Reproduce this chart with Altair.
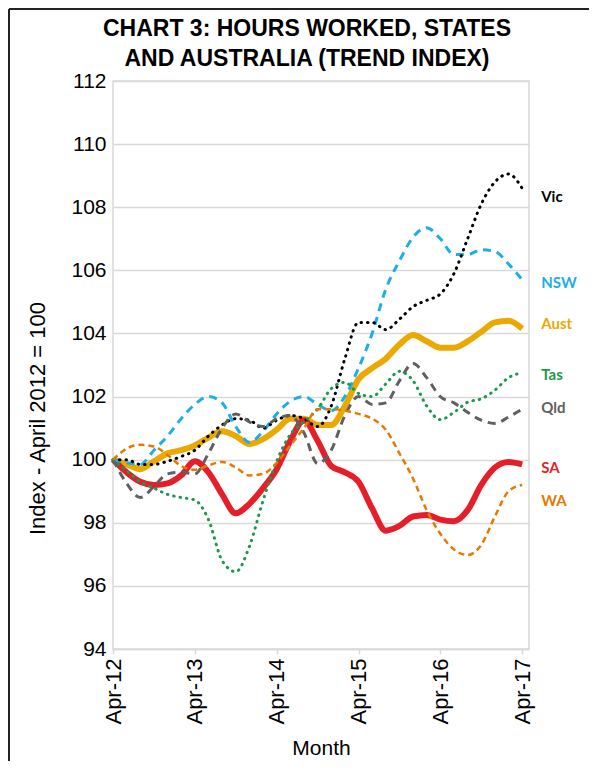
import json
import altair as alt
import pandas as pd

# ---------------- data (bimonthly) ----------------
months = [
    "2012-04", "2012-06", "2012-08", "2012-10", "2012-12", "2013-02",
    "2013-04", "2013-06", "2013-08", "2013-10", "2013-12", "2014-02",
    "2014-04", "2014-06", "2014-08", "2014-10", "2014-12", "2015-02",
    "2015-04", "2015-06", "2015-08", "2015-10", "2015-12", "2016-02",
    "2016-04", "2016-06", "2016-08", "2016-10", "2016-12", "2017-02",
    "2017-04",
]

vic = [100.0, 100.0, 99.85, 99.85, 99.95, 100.1, 100.3, 100.75, 101.1, 101.3,
       101.25, 101.0, 101.25, 101.4, 101.3, 101.05, 101.7, 103.2, 104.35, 104.35,
       104.12, 104.45, 104.85, 105.05, 105.25, 105.9, 107.0, 108.1, 108.8, 109.05,
       108.6]
nsw = [100.0, 99.9, 99.85, 100.3, 100.75, 101.3, 101.75, 102.0, 101.8, 101.05,
       100.55, 100.9, 101.45, 101.85, 102.0, 101.75, 101.55, 102.0, 102.9, 104.0,
       105.4, 106.3, 107.05, 107.35, 107.0, 106.5, 106.5, 106.65, 106.6, 106.2,
       105.7]
aust = [100.0, 99.85, 99.7, 99.95, 100.2, 100.3, 100.45, 100.7, 100.9, 100.75,
        100.5, 100.65, 100.95, 101.3, 101.3, 101.1, 101.1, 101.7, 102.55, 102.9,
        103.2, 103.65, 103.95, 103.75, 103.55, 103.55, 103.75, 104.05, 104.35, 104.4,
        104.15]
tas = [100.0, 99.65, 99.3, 99.1, 98.9, 98.8, 98.72, 98.1, 96.8, 96.45,
       97.25, 98.7, 99.95, 100.8, 101.2, 101.6, 102.25, 102.45, 102.1, 102.0,
       102.4, 102.8, 102.5, 101.7, 101.27, 101.5, 101.82, 101.93, 102.2, 102.6,
       102.75]
qld = [100.0, 99.25, 98.8, 99.15, 99.55, 99.6, 99.55, 100.2, 101.0, 101.45,
       101.2, 101.05, 101.3, 101.4, 100.85, 99.88, 100.3, 101.4, 102.0, 101.75,
       101.8, 102.5, 103.05, 102.6, 102.0, 101.8, 101.5, 101.25, 101.15, 101.35,
       101.6]
sa = [100.0, 99.6, 99.3, 99.2, 99.25, 99.5, 99.95, 99.6, 98.9, 98.3,
      98.6, 99.1, 99.7, 100.6, 101.25, 100.6, 99.8, 99.6, 99.3, 98.45,
      97.75, 97.9, 98.2, 98.25, 98.1, 98.05, 98.4, 99.2, 99.75, 99.93,
      99.85]
wa = [100.0, 100.35, 100.47, 100.42, 100.15, 99.8, 99.68, 99.82, 99.93, 99.75,
      99.5, 99.55, 99.9, 100.45, 101.0, 101.6, 101.6, 101.55, 101.45, 101.3,
      100.95, 100.2, 99.4, 98.4, 97.65, 97.15, 96.98, 97.3, 98.2, 99.0,
      99.2]

series_names = ["Vic", "NSW", "Aust", "Tas", "Qld", "SA", "WA"]
series_values = [vic, nsw, aust, tas, qld, sa, wa]

x_tick_labels = ["Apr-12", "Apr-13", "Apr-14", "Apr-15", "Apr-16", "Apr-17"]
y_ticks = [94, 96, 98, 100, 102, 104, 106, 108, 110, 112]
title_lines = ["CHART 3: HOURS WORKED, STATES", "AND AUSTRALIA  (TREND INDEX)"]

# ---------------- styles ----------------
styles = {
    "Aust": dict(color="#EAA800", strokeWidth=6),
    "SA":   dict(color="#E61E29", strokeWidth=6),
    "NSW":  dict(color="#1BAEE8", strokeWidth=3, strokeDash=[8, 6]),
    "Vic":  dict(color="#000000", strokeWidth=3, strokeDash=[0.5, 6], strokeCap="round"),
    "Qld":  dict(color="#606060", strokeWidth=3, strokeDash=[8, 6]),
    "Tas":  dict(color="#1A9A4A", strokeWidth=3, strokeDash=[0.5, 6], strokeCap="round"),
    "WA":   dict(color="#E57A00", strokeWidth=2.5, strokeDash=[6, 4]),
}
label_colors = {"Vic": "#000000", "NSW": "#1BAEE8", "Aust": "#EAA800",
                "Tas": "#1A9A4A", "Qld": "#606060", "SA": "#E61E29", "WA": "#E57A00"}
label_nudge = {"Vic": 9, "NSW": 3, "Aust": -5, "Tas": 2, "Qld": -1, "SA": 4, "WA": 16}
draw_order = ["Aust", "SA", "NSW", "Vic", "Qld", "Tas", "WA"]
FONT = "Liberation Sans"
AX_FS = 21


def month_index(s):
    y, m = s.split("-")
    return (int(y) - 2012) * 12 + int(m) - 4


rows = []
for name, vals in zip(series_names, series_values):
    for mo, v in zip(months, vals):
        rows.append({"series": name, "m": month_index(mo), "value": v})
df = pd.DataFrame(rows)

label_expr = json.dumps(x_tick_labels) + "[round(datum.value / 12)]"

x_enc = alt.X(
    "m:Q",
    scale=alt.Scale(domain=[0, 61], nice=False, zero=False),
    axis=alt.Axis(
        values=[0, 12, 24, 36, 48, 60], labelExpr=label_expr, labelAngle=270,
        grid=False, ticks=True, tickSize=5, tickColor="#d9d9d9", tickWidth=1.5,
        domainColor="#d9d9d9", domainWidth=1.5, labelFontSize=22, labelPadding=4,
        title="Month", titleFontSize=AX_FS, titleY=99, titleBaseline="middle",
    ),
)
y_enc = alt.Y(
    "value:Q",
    scale=alt.Scale(domain=[94, 112], nice=False, zero=False),
    axis=alt.Axis(
        values=y_ticks, grid=True, ticks=False, domain=False, labelFontSize=AX_FS,
        labelPadding=7, title="Index - April  2012 = 100", titleFontSize=22,
        titleAngle=270, titleX=-76, titleY=337, titleAlign="center",
        titleBaseline="middle",
    ),
)

layers = []
for name in draw_order:
    st = styles[name]
    layers.append(
        alt.Chart(df).transform_filter(alt.datum.series == name)
        .mark_line(interpolate="monotone", **st)
        .encode(x=x_enc, y=y_enc)
    )

for name, vals in zip(series_names, series_values):
    ldf = pd.DataFrame([{"m": month_index(months[-1]), "value": vals[-1], "label": name}])
    layers.append(
        alt.Chart(ldf).mark_text(
            align="left", baseline="middle", dx=19, dy=label_nudge[name],
            font="Lato", fontWeight="bold", fontSize=15, color=label_colors[name],
        ).encode(x="m:Q", y="value:Q", text="label:N")
    )

# chart title drawn as text (two lines)
for i, line in enumerate(title_lines):
    layers.append(
        alt.Chart(pd.DataFrame({"t": [line]})).mark_text(
            font=FONT, fontSize=23, fontWeight="bold", color="#000000",
            align="center", baseline="alphabetic",
        ).encode(text="t:N", x=alt.value(194), y=alt.value(-45 + 30 * i))
    )

# outer chart frame (left and top edges visible in the reference)
frame = pd.DataFrame({"k": [0]})
layers.append(
    alt.Chart(frame).mark_rule(color="#222222", strokeWidth=2)
    .encode(x=alt.value(-104), y=alt.value(-72), y2=alt.value(700))
)
layers.append(
    alt.Chart(frame).mark_rule(color="#222222", strokeWidth=2)
    .encode(x=alt.value(-104), x2=alt.value(480), y=alt.value(-72))
)

chart = alt.layer(*layers).properties(
    width=416,
    height=568,
    autosize=alt.AutoSizeParams(type="none"),
    padding={"left": 105, "top": 73, "right": 60, "bottom": 112},
).configure_view(
    stroke="#d9d9d9", strokeWidth=1.5
).configure_axis(
    gridColor="#d9d9d9", gridWidth=1.5,
    labelFont=FONT, titleFont=FONT,
    labelColor="#000000", titleColor="#000000", titleFontWeight="normal",
)

chart.save("out.html", embed_options={"renderer": "svg", "actions": False})
